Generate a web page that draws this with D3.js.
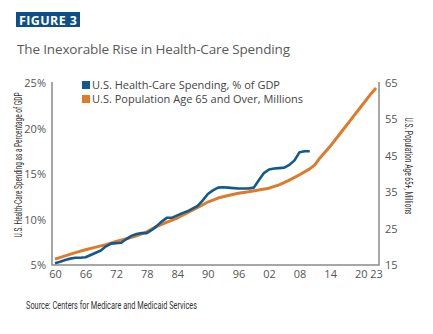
<!DOCTYPE html>
<html>
  <head>
    <meta charset="utf-8">
    <title>health-care spending</title>
    <style>
      body { margin: 0; background: #fff; }
      text { font-family: "Open Sans", sans-serif; }
      .narrow { font-family: "Roboto", sans-serif; }
    </style>
  </head>
  <body>
    <div class="one-graph"></div>
    <script src="https://cdn.jsdelivr.net/npm/d3@7"></script>
    <script>
        // health-care spending, % of GDP (left axis)
        var spendYears = [1960, 1961, 1962, 1963, 1964, 1965, 1966, 1967, 1968, 1969,
                          1970, 1971, 1972, 1973, 1974, 1975, 1976, 1977, 1978, 1979,
                          1980, 1981, 1982, 1983, 1984, 1985, 1986, 1987, 1988, 1989,
                          1990, 1991, 1992, 1993, 1994, 1995, 1996, 1997, 1998, 1999,
                          2000, 2001, 2002, 2003, 2004, 2005, 2006, 2007, 2008, 2009, 2010];
        var spendPct = [5.2, 5.35, 5.55, 5.7, 5.8, 5.8, 5.85, 6.1, 6.35, 6.6,
                        7.05, 7.35, 7.4, 7.45, 7.85, 8.2, 8.4, 8.5, 8.5, 8.85,
                        9.3, 9.8, 10.2, 10.2, 10.45, 10.7, 10.9, 11.2, 11.5, 12.1,
                        12.8, 13.2, 13.5, 13.55, 13.5, 13.45, 13.4, 13.4, 13.4, 13.5,
                        14.3, 15.1, 15.5, 15.6, 15.65, 15.7, 16.0, 16.5, 17.4, 17.5, 17.5];

        // population age 65 and over, millions (right axis)
        var popYears = [1960, 1962, 1964, 1966, 1968, 1970, 1972, 1974, 1976, 1978,
                        1980, 1982, 1984, 1986, 1988, 1990, 1992, 1994, 1996, 1998,
                        2000, 2002, 2004, 2006, 2008, 2010, 2011, 2012, 2014, 2016,
                        2018, 2020, 2022, 2023];
        var popMillions = [16.6, 17.5, 18.4, 19.2, 19.9, 20.6, 21.5, 22.2, 23.0, 24.1,
                           25.6, 26.8, 27.9, 29.4, 30.8, 32.3, 33.4, 34.1, 34.7, 35.1,
                           35.6, 36.1, 37.0, 38.3, 39.8, 41.4, 42.5, 44.4, 47.6, 51.2,
                           54.8, 58.4, 62.0, 63.6];

        var xTicks = [1960, 1966, 1972, 1978, 1984, 1990, 1996, 2002, 2008, 2014, 2020, 2023];
        var leftTicks = [5, 10, 15, 20, 25];
        var rightTicks = [15, 25, 35, 45, 55, 65];
        var seriesNames = ["U.S. Health-Care Spending, % of GDP", "U.S. Population Age 65 and Over, Millions"];
        var seriesColors = ["#135a8c", "#dd7b2a"];

        var w = 433, h = 334;
        var plotL = 52, plotR = 379, plotT = 82, plotB = 265;

        var svg = d3.select(".one-graph")
        	.append("svg")
        	.attr("width", w)
        	.attr("height", h);

        var x = d3.scaleLinear().domain([1960, 2023]).range([55, 376]);
        var yL = d3.scaleLinear().domain([5, 25]).range([plotB, plotT + 1]);
        var yR = d3.scaleLinear().domain([15, 65]).range([plotB, plotT + 1]);

        // header
        svg.append("rect")
        	.attr("x", 16).attr("y", 12).attr("width", 64).attr("height", 15)
        	.style("fill", "#0e4f87");
        svg.append("text")
        	.attr("x", 48).attr("y", 24.5)
        	.style("text-anchor", "middle")
        	.style("fill", "#fff")
        	.style("font-weight", "bold")
        	.style("font-size", "12.5px")
        	.attr("textLength", 58)
        	.text("FIGURE 3");
        svg.append("text")
        	.attr("x", 17).attr("y", 54)
        	.style("fill", "#5a5a5a")
        	.style("font-size", "13.5px")
        	.style("font-weight", 500)
        	.attr("textLength", 273)
        	.text("The Inexorable Rise in Health-Care Spending");

        // axes, no tick marks
        var axisColor = "#8a8a8a";
        svg.append("g")
        	.attr("transform", "translate(" + plotL + ",0)")
        	.call(d3.axisLeft(yL).tickValues(leftTicks).tickSize(0).tickPadding(6)
        		.tickFormat(function(d) { return d + "%"; }));
        svg.append("g")
        	.attr("transform", "translate(" + plotR + ",0)")
        	.call(d3.axisRight(yR).tickValues(rightTicks).tickSize(0).tickPadding(6));
        svg.append("g")
        	.attr("transform", "translate(0," + plotB + ")")
        	.call(d3.axisBottom(x).tickValues(xTicks).tickSize(0).tickPadding(5)
        		.tickFormat(function(d) { return d3.format("02")(d % 100); }));

        svg.selectAll(".domain").remove();
        svg.selectAll(".tick text")
        	.style("font-family", "Open Sans, sans-serif")
        	.style("font-size", "11px")
        	.style("fill", "#555");

        svg.append("path")
        	.attr("d", "M" + plotL + "," + plotT + "V" + plotB + "H" + plotR + "V" + plotT)
        	.style("fill", "none")
        	.style("stroke", axisColor)
        	.style("stroke-width", 1.5);

        // axis titles
        svg.append("text")
        	.attr("class", "narrow")
        	.attr("transform", "translate(22,165) rotate(-90)")
        	.style("text-anchor", "middle")
        	.style("font-size", "10px")
        	.style("fill", "#333")
        	.attr("textLength", 145)
        	.attr("lengthAdjust", "spacingAndGlyphs")
        	.text("U.S. Health-Care Spending as a Percentage of GDP");
        svg.append("text")
        	.attr("class", "narrow")
        	.attr("transform", "translate(405,166) rotate(90)")
        	.style("text-anchor", "middle")
        	.style("font-size", "10px")
        	.style("fill", "#333")
        	.attr("textLength", 97)
        	.attr("lengthAdjust", "spacingAndGlyphs")
        	.text("U.S. Population Age 65+, Millions");

        // lines
        var lineL = d3.line()
        	.x(function(d, i) { return x(spendYears[i]); })
        	.y(function(d) { return yL(d); });
        var lineR = d3.line()
        	.x(function(d, i) { return x(popYears[i]); })
        	.y(function(d) { return yR(d); });

        svg.append("path")
        	.attr("d", lineR(popMillions))
        	.style("fill", "none")
        	.style("stroke", seriesColors[1])
        	.style("stroke-width", 3)
        	.style("stroke-linejoin", "round");
        svg.append("path")
        	.attr("d", lineL(spendPct))
        	.style("fill", "none")
        	.style("stroke", seriesColors[0])
        	.style("stroke-width", 2.6)
        	.style("stroke-linejoin", "round");

        // legend
        var lg = svg.selectAll(".legend")
        	.data(seriesNames)
        	.enter()
        	.append("g")
        	.attr("class", "legend")
        	.attr("transform", function(d, i) { return "translate(82," + (85 + i * 14) + ")"; });
        lg.append("rect")
        	.attr("x", 0).attr("y", -4).attr("width", 8).attr("height", 8)
        	.style("fill", function(d, i) { return seriesColors[i]; });
        lg.append("text")
        	.attr("x", 10).attr("y", 4)
        	.style("font-size", "11px")
        	.style("fill", "#444")
        	.text(function(d) { return d; });

        // source
        svg.append("text")
        	.attr("class", "narrow")
        	.attr("x", 26).attr("y", 309)
        	.style("font-size", "10px")
        	.style("fill", "#333")
        	.attr("textLength", 171)
        	.attr("lengthAdjust", "spacingAndGlyphs")
        	.text("Source: Centers for Medicare and Medicaid Services");
    </script>
  </body>
</html>
